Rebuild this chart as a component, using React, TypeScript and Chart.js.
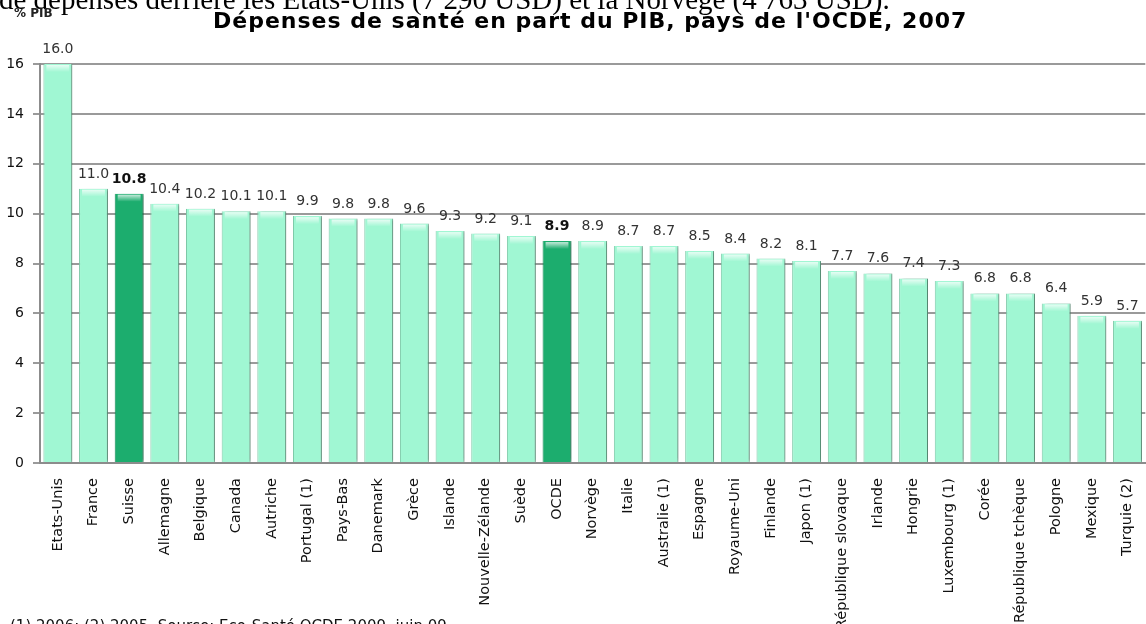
import React, { useEffect, useRef } from "react";
import { Chart, registerables } from "chart.js";

Chart.register(...registerables);

const categories: string[] = [
  "Etats-Unis", "France", "Suisse", "Allemagne", "Belgique", "Canada", "Autriche",
  "Portugal (1)", "Pays-Bas", "Danemark", "Grèce", "Islande", "Nouvelle-Zélande", "Suède",
  "OCDE", "Norvège", "Italie", "Australie (1)", "Espagne", "Royaume-Uni", "Finlande",
  "Japon (1)", "République slovaque", "Irlande", "Hongrie", "Luxembourg (1)", "Corée",
  "République tchèque", "Pologne", "Mexique", "Turquie (2)",
];

const values: number[] = [
  16.0, 11.0, 10.8, 10.4, 10.2, 10.1, 10.1, 9.9, 9.8, 9.8, 9.6, 9.3, 9.2, 9.1,
  8.9, 8.9, 8.7, 8.7, 8.5, 8.4, 8.2, 8.1, 7.7, 7.6, 7.4, 7.3, 6.8, 6.8, 6.4, 5.9, 5.7,
];

const highlighted: string[] = ["Suisse", "OCDE"];

const titleText = "Dépenses de santé en part du PIB, pays de l'OCDE, 2007";
const yAxisTitle = "% PIB";
const topText = "de dépenses derrière les Etats-Unis (7 290 USD) et la Norvège (4 763 USD).";
const footText = "(1) 2006; (2) 2005. Source: Eco-Santé OCDE 2009, juin 09";

const LIGHT = "#a0f7d3";
const DARK = "#1cad6e";

const barDecor = {
  id: "barDecor",
  beforeDatasetsDraw(chart: any) {
    const ctx = chart.ctx;
    ctx.save();
    ctx.shadowColor = "rgba(0,0,0,0.35)";
    ctx.shadowOffsetX = 3;
    ctx.shadowOffsetY = 0;
    ctx.shadowBlur = 3;
  },
  afterDatasetsDraw(chart: any) {
    const ctx = chart.ctx;
    ctx.restore();
    const meta = chart.getDatasetMeta(0);
    ctx.save();
    meta.data.forEach((bar: any) => {
      const w = bar.width;
      const left = bar.x - w / 2 + 1;
      const top = bar.y;
      const g = ctx.createLinearGradient(0, top, 0, top + 8);
      g.addColorStop(0, "rgba(255,255,255,0.85)");
      g.addColorStop(1, "rgba(255,255,255,0)");
      ctx.fillStyle = g;
      ctx.fillRect(left + 2, top + 1, w - 6, 7);
    });
    ctx.restore();
    ctx.save();
    ctx.textAlign = "center";
    ctx.textBaseline = "alphabetic";
    meta.data.forEach((bar: any, i: number) => {
      const hl = highlighted.includes(categories[i]);
      ctx.font = (hl ? "bold " : "") + "14px 'DejaVu Sans'";
      ctx.fillStyle = hl ? "#111" : "#333";
      ctx.fillText(values[i].toFixed(1), bar.x, bar.y - 11);
    });
    ctx.restore();
  },
};

export default function App() {
  const ref = useRef<HTMLCanvasElement>(null);
  useEffect(() => {
    if (!ref.current) return;
    const chart = new Chart(ref.current, {
      type: "bar",
      data: {
        labels: categories,
        datasets: [
          {
            data: values,
            backgroundColor: categories.map((c) => (highlighted.includes(c) ? DARK : LIGHT)),
            borderColor: categories.map((c) => (highlighted.includes(c) ? "#128a56" : "#7ec9a8")),
            borderWidth: { left: 1, right: 1, top: 0, bottom: 0 },
            borderSkipped: false,
            barPercentage: 0.81,
            categoryPercentage: 1,
          },
        ],
      },
      options: {
        responsive: false,
        animation: false,
        layout: { padding: { top: 64, left: 0, right: 7, bottom: 0 } },
        plugins: {
          legend: { display: false },
          tooltip: { enabled: false },
          title: { display: false },
        },
        scales: {
          x: {
            grid: { display: false, drawTicks: false },
            border: { display: true, color: "#8c8c8c", width: 2 },
            ticks: {
              autoSkip: false,
              maxRotation: 90,
              minRotation: 90,
              padding: 15,
              color: "#111",
              font: { family: "'DejaVu Sans'", size: 14.5 },
            },
            afterFit(scale: any) {
              scale.height = 161;
            },
          },
          y: {
            min: 0,
            max: 16,
            ticks: {
              stepSize: 2,
              padding: 9,
              color: "#111",
              font: { family: "'DejaVu Sans'", size: 14 },
            },
            grid: { color: "#9a9a9a", lineWidth: 2, tickLength: 7, drawTicks: true },
            border: { display: true, color: "#8c8c8c", width: 2 },
            afterFit(scale: any) {
              scale.width = 40;
            },
          },
        },
      },
      plugins: [barDecor],
    });
    return () => chart.destroy();
  }, []);

  return (
    <div
      style={{
        position: "absolute",
        left: 0,
        top: 0,
        width: 1146,
        height: 624,
        overflow: "hidden",
        background: "#fff",
      }}
    >
      <canvas
        ref={ref}
        width={1160}
        height={624}
        style={{ position: "absolute", left: 0, top: 0, width: 1160, height: 624 }}
      />
      <div
        style={{
          position: "absolute",
          left: -1,
          top: -14.8,
          font: "29px/29px 'Liberation Serif'",
          whiteSpace: "nowrap",
          color: "#000",
        }}
      >
        {topText}
      </div>
      <div
        style={{
          position: "absolute",
          left: 213,
          top: 10,
          font: "bold 22px/22px 'DejaVu Sans'",
          letterSpacing: "1px",
          whiteSpace: "nowrap",
          color: "#000",
        }}
      >
        {titleText}
      </div>
      <div
        style={{
          position: "absolute",
          left: 14,
          top: 7,
          font: "bold 12px/12px 'DejaVu Sans'",
          whiteSpace: "nowrap",
          color: "#222",
        }}
      >
        {yAxisTitle}
      </div>
      <div
        style={{
          position: "absolute",
          left: 10,
          top: 618.7,
          font: "15px/15px 'DejaVu Sans'",
          whiteSpace: "nowrap",
          color: "#111",
        }}
      >
        {footText}
      </div>
    </div>
  );
}
